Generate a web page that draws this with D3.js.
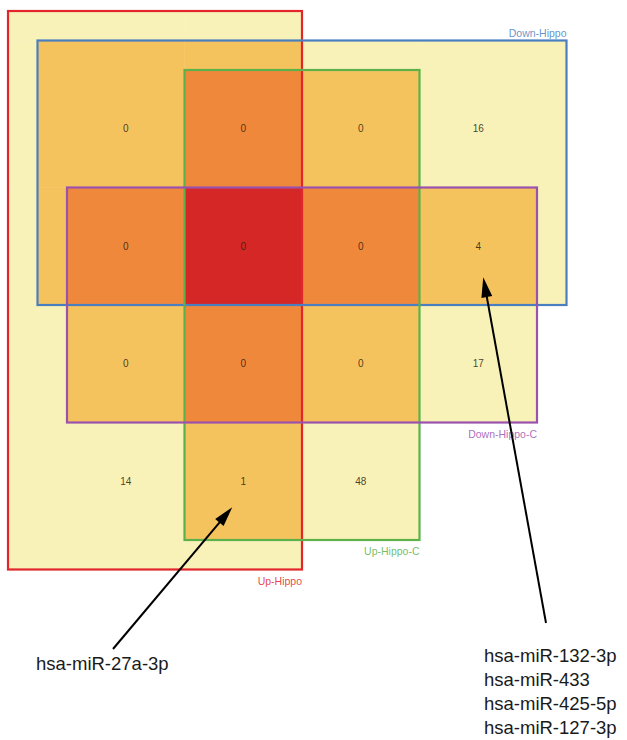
<!DOCTYPE html>
<html>
<head>
<meta charset="utf-8">
<script src="https://cdn.jsdelivr.net/npm/d3@7"></script>
<style>
  html, body { margin: 0; padding: 0; background: #ffffff; }
  svg { display: block; font-family: "Liberation Sans", Arial, sans-serif; }
</style>
</head>
<body>
<svg id="chart" width="627" height="740"></svg>
<script>
// Set names and colours
const setNames  = ["Up-Hippo", "Down-Hippo", "Up-Hippo-C", "Down-Hippo-C"];
const setColors = ["#e2262b", "#4a7fbf", "#5cb14b", "#9b52ae"];

// Region counts on the 4x4 grid (row = Down-Hippo / Down-Hippo-C state, col = Up-Hippo / Up-Hippo-C state)
const rowCounts = [
  [0, 0, 0, 16],
  [0, 0, 0, 4],
  [0, 0, 0, 17],
  [14, 1, 48, null]
];

// Annotated miRNAs
const miR27Group  = ["hsa-miR-27a-3p"];
const miR132Group = ["hsa-miR-132-3p", "hsa-miR-433", "hsa-miR-425-5p", "hsa-miR-127-3p"];

// Fill colour by number of overlapping sets
const overlapColors = ["#ffffff", "#f8f2b8", "#f5c35d", "#f0883b", "#d62727"];

const svg = d3.select("#chart");

// grid layout: 4 columns x 4 rows of equal cells
const cell = 117.5, pad = 29.5;
const x = d3.scaleLinear().domain([0, 4]).range([67, 67 + 4 * cell]);
const y = d3.scaleLinear().domain([0, 4]).range([70, 70 + 4 * cell]);

// Each set spans a block of grid cells, with extra pad units on some sides
const setSpans = [
  { c0: 0, c1: 2, r0: 0, r1: 4, pl: 2, pr: 0, pt: 2, pb: 1, ly: "below" },
  { c0: 0, c1: 4, r0: 0, r1: 2, pl: 1, pr: 1, pt: 1, pb: 0, ly: "above" },
  { c0: 1, c1: 3, r0: 0, r1: 4, pl: 0, pr: 0, pt: 0, pb: 0, ly: "below" },
  { c0: 0, c1: 4, r0: 1, r1: 3, pl: 0, pr: 0, pt: 0, pb: 0, ly: "below" }
];

const rects = setSpans.map((s, i) => ({
  name: setNames[i],
  color: setColors[i],
  x0: x(s.c0) - s.pl * pad,
  x1: x(s.c1) + s.pr * pad,
  y0: y(s.r0) - s.pt * pad,
  y1: y(s.r1) + s.pb * pad,
  ly: s.ly
}));

// Split the plane into elementary pieces and colour by overlap depth
const xs = Array.from(new Set(rects.flatMap(r => [r.x0, r.x1]))).sort((a, b) => a - b);
const ys = Array.from(new Set(rects.flatMap(r => [r.y0, r.y1]))).sort((a, b) => a - b);
const pieces = [];
for (let i = 0; i < xs.length - 1; i++) {
  for (let j = 0; j < ys.length - 1; j++) {
    const cx = (xs[i] + xs[i + 1]) / 2, cy = (ys[j] + ys[j + 1]) / 2;
    const depth = rects.filter(r => cx > r.x0 && cx < r.x1 && cy > r.y0 && cy < r.y1).length;
    if (depth > 0) pieces.push({ x0: xs[i], x1: xs[i + 1], y0: ys[j], y1: ys[j + 1], depth });
  }
}

svg.append("g").selectAll("rect").data(pieces).join("rect")
  .attr("x", d => d.x0).attr("y", d => d.y0)
  .attr("width", d => d.x1 - d.x0).attr("height", d => d.y1 - d.y0)
  .attr("fill", d => overlapColors[d.depth])
  .attr("stroke", d => overlapColors[d.depth])
  .attr("stroke-width", 0.5);

// Set outlines
svg.append("g").selectAll("rect").data(rects).join("rect")
  .attr("x", d => d.x0).attr("y", d => d.y0)
  .attr("width", d => d.x1 - d.x0).attr("height", d => d.y1 - d.y0)
  .attr("fill", "none")
  .attr("stroke", d => d.color)
  .attr("stroke-width", 2.2);

// Set labels at the right corner of each outline
svg.append("g").selectAll("text").data(rects).join("text")
  .attr("x", d => d.x1)
  .attr("y", d => d.ly === "above" ? d.y0 - 4 : d.y1 + 15)
  .attr("text-anchor", "end")
  .attr("font-size", 10.5)
  .attr("fill", d => d.color)
  .attr("fill-opacity", 0.85)
  .text(d => d.name);

// Region counts
const cells = rowCounts.flatMap((row, r) => row.map((v, c) => ({ r, c, v }))).filter(d => d.v !== null);
svg.append("g").selectAll("text").data(cells).join("text")
  .attr("x", d => x(d.c + 0.5))
  .attr("y", d => y(d.r + 0.5) + 3.5)
  .attr("text-anchor", "middle")
  .attr("font-size", 10)
  .attr("fill", "#2a2210")
  .attr("fill-opacity", 0.85)
  .text(d => d.v);

// Annotation arrows from miRNA lists to their regions
const notes = [
  { lines: miR27Group,  r: 3, c: 1, tipDx: -11, tipDy: 26, tail: [113, 649], tx: 36,  ty: 670 },
  { lines: miR132Group, r: 1, c: 3, tipDx: 5,   tipDy: 31, tail: [546, 623], tx: 484, ty: 662 }
];

const arrows = svg.append("g");
notes.forEach(n => {
  const tip = [x(n.c + 0.5) + n.tipDx, y(n.r + 0.5) + n.tipDy];
  const dx = tip[0] - n.tail[0], dy = tip[1] - n.tail[1];
  const len = Math.hypot(dx, dy), ux = dx / len, uy = dy / len;
  const headLen = 20, headW = 5.5;
  const base = [tip[0] - ux * headLen, tip[1] - uy * headLen];
  arrows.append("line")
    .attr("x1", n.tail[0]).attr("y1", n.tail[1])
    .attr("x2", base[0] + ux * 2).attr("y2", base[1] + uy * 2)
    .attr("stroke", "#000").attr("stroke-width", 2);
  arrows.append("path")
    .attr("d", d3.line()([
      tip,
      [base[0] - uy * headW, base[1] + ux * headW],
      [base[0] + uy * headW, base[1] - ux * headW]
    ]) + "Z")
    .attr("fill", "#000");

  const t = svg.append("text")
    .attr("x", n.tx).attr("y", n.ty)
    .attr("font-size", 18.5)
    .attr("fill", "#1a1a1a");
  n.lines.forEach((s, i) => {
    t.append("tspan").attr("x", n.tx).attr("dy", i === 0 ? 0 : 24).text(s);
  });
});
</script>
</body>
</html>
